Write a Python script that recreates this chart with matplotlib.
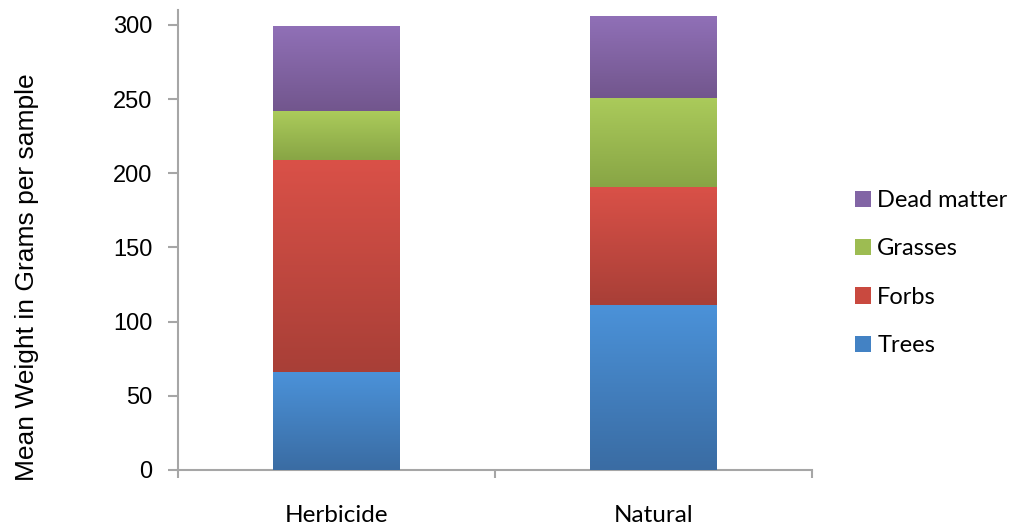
import matplotlib
matplotlib.use("Agg")
import matplotlib.pyplot as plt
import numpy as np
from matplotlib.colors import LinearSegmentedColormap
from matplotlib.patches import Patch

categories = ["Herbicide", "Natural"]
series_names = ["Trees", "Forbs", "Grasses", "Dead matter"]
trees = [66, 111]
forbs = [143, 80]
grasses = [33, 60]
dead = [57, 55]
yticks = [0, 50, 100, 150, 200, 250, 300]

# (top colour, bottom colour) gradients
grad = {
    "Trees": ("#4B92D9", "#3A6CA3"),
    "Forbs": ("#DA5148", "#A83F37"),
    "Grasses": ("#ABCB5B", "#88A545"),
    "Dead matter": ("#9070B7", "#72568D"),
}
mid = {"Trees": "#4382C4", "Forbs": "#C9493F", "Grasses": "#9DBC52", "Dead matter": "#8265A5"}

fig = plt.figure(figsize=(10.16, 5.29), dpi=100)
ax = fig.add_axes([178/1016, 1 - 470/529, (812 - 178)/1016, (470 - 10)/529])

x = np.arange(len(categories))
width = 0.4
bottom = np.zeros(len(categories))
grad_img = np.linspace(1, 0, 256).reshape(-1, 1)
for name, vals in zip(series_names, [trees, forbs, grasses, dead]):
    bars = ax.bar(x, vals, width, bottom=bottom, color=mid[name], edgecolor="none", zorder=2)
    cmap = LinearSegmentedColormap.from_list(name, [grad[name][1], grad[name][0]])
    for b in bars:
        x0, y0 = b.get_x(), b.get_y()
        w, h = b.get_width(), b.get_height()
        im = ax.imshow(grad_img, cmap=cmap, aspect="auto", extent=[x0, x0 + w, y0, y0 + h],
                       interpolation="bicubic", zorder=3, vmin=0, vmax=1)
        im.set_clip_path(b)
    bottom += np.array(vals)

ax.set_xlim(-0.5, len(categories) - 0.5)
ax.set_ylim(0, 310)
ax.set_yticks(yticks)
ax.set_yticklabels([str(t) for t in yticks], fontsize=17, family="Liberation Sans")
ax.set_xticks(np.arange(-0.5, len(categories), 1.0))
ax.set_xticklabels([])
ax.tick_params(axis="x", direction="out", length=6, width=1.5, color="#A6A6A6")
ax.tick_params(axis="y", direction="out", length=7, width=1.5, color="#A6A6A6", pad=11.5)
for i, c in enumerate(categories):
    ax.text(i, -0.075, c, transform=ax.get_xaxis_transform(), ha="center", va="top",
            fontsize=17.5, family="Lato")

for s in ["top", "right"]:
    ax.spines[s].set_visible(False)
for s in ["left", "bottom"]:
    ax.spines[s].set_color("#A6A6A6")
    ax.spines[s].set_linewidth(1.5)

ax.set_ylabel("Mean Weight in Grams per sample", fontsize=19, family="Liberation Sans")
ax.yaxis.set_label_coords((39 - 178) / 634, (470 - 277) / 460)

handles = [Patch(facecolor=mid[n], edgecolor="none") for n in series_names[::-1]]
leg = fig.legend(handles, series_names[::-1], loc="center left", bbox_to_anchor=(834/1016, 1 - 273/529),
                 frameon=False, prop={"family": "Lato", "size": 17}, handlelength=0.68, handleheight=0.68,
                 handletextpad=0.25, labelspacing=1.16)

fig.savefig("out.png", dpi=100)
